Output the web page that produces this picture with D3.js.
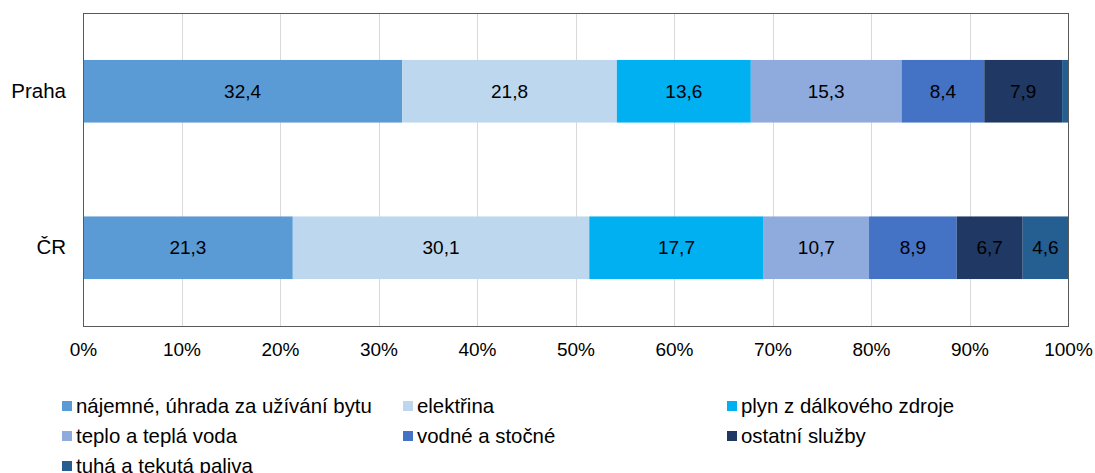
<!DOCTYPE html>
<html>
<head>
<meta charset="utf-8">
<script src="https://cdn.jsdelivr.net/npm/d3@7"></script>
<style>
  body { margin: 0; background: #fff; }
  svg text { font-family: "Liberation Sans", Arial, sans-serif; fill: #000; }
</style>
</head>
<body>
<div id="chart"></div>
<script>
var WIDTH = 1095, HEIGHT = 473;
var MARGIN = { top: 13, right: 27, bottom: 147, left: 83 };

var categories = ['Praha', 'ČR'];
var series = [
  'nájemné, úhrada za užívání bytu',
  'elektřina',
  'plyn z dálkového zdroje',
  'teplo a teplá voda',
  'vodné a stočné',
  'ostatní služby',
  'tuhá a tekutá paliva'
];
var colors = ['#5b9bd5', '#bdd7ee', '#00b0f0', '#8faadc', '#4472c4', '#203864', '#255e91'];
var praha = [32.4, 21.8, 13.6, 15.3, 8.4, 7.9, 0.6];
var cr = [21.3, 30.1, 17.7, 10.7, 8.9, 6.7, 4.6];
var values = [praha, cr];
var ticks = [0, 10, 20, 30, 40, 50, 60, 70, 80, 90, 100];

var innerW = WIDTH - MARGIN.left - MARGIN.right;
var innerH = HEIGHT - MARGIN.top - MARGIN.bottom;

var svg = d3.select('#chart').append('svg')
  .attr('width', WIDTH)
  .attr('height', HEIGHT);

var g = svg.append('g')
  .attr('transform', 'translate(' + MARGIN.left + ',' + MARGIN.top + ')');

var x = d3.scaleLinear().domain([0, 100]).range([0, innerW]);
var y = d3.scaleBand().domain(categories).range([0, innerH]).paddingInner(0.6).paddingOuter(0.3);

// gridlines
g.selectAll('line.grid')
  .data(ticks)
  .enter()
    .append('line')
    .attr('class', 'grid')
    .attr('x1', function (d) { return Math.round(x(d)) + 0.5; })
    .attr('x2', function (d) { return Math.round(x(d)) + 0.5; })
    .attr('y1', 0)
    .attr('y2', innerH)
    .attr('stroke', '#d9d9d9')
    .attr('stroke-width', 1);

// stacked segments
var rows = categories.map(function (c, i) {
  var acc = 0;
  return values[i].map(function (v, j) {
    var seg = { cat: c, x0: acc, x1: acc + v, v: v, j: j };
    acc += v;
    return seg;
  });
});

var rowG = g.selectAll('g.row')
  .data(rows)
  .enter()
    .append('g')
    .attr('class', 'row');

rowG.selectAll('rect')
  .data(function (d) { return d; })
  .enter()
    .append('rect')
    .attr('x', function (d) { return x(d.x0); })
    .attr('width', function (d) { return x(d.x1) - x(d.x0); })
    .attr('y', function (d) { return y(d.cat); })
    .attr('height', y.bandwidth())
    .attr('fill', function (d) { return colors[d.j]; });

rowG.selectAll('text')
  .data(function (d) { return d.filter(function (s) { return s.v >= 2; }); })
  .enter()
    .append('text')
    .attr('x', function (d) { return x((d.x0 + d.x1) / 2); })
    .attr('y', function (d) { return y(d.cat) + y.bandwidth() / 2; })
    .attr('dy', '0.35em')
    .attr('text-anchor', 'middle')
    .style('font-size', '19px')
    .text(function (d) { return d3.format('.1f')(d.v).replace('.', ','); });

// plot border
g.append('rect')
  .attr('x', 0.5)
  .attr('y', 0.5)
  .attr('width', innerW)
  .attr('height', innerH)
  .attr('fill', 'none')
  .attr('stroke', '#595959')
  .attr('stroke-width', 1);

// x axis labels
var xAxis = d3.axisBottom(x)
  .tickValues(ticks)
  .tickSize(0)
  .tickPadding(17)
  .tickFormat(function (d) { return d + '%'; });

g.append('g')
  .attr('transform', 'translate(0,' + innerH + ')')
  .call(xAxis)
  .call(function (sel) {
    sel.select('.domain').remove();
    sel.selectAll('text').style('font-size', '19px').attr('fill', '#000');
  });

// y axis labels
var yAxis = d3.axisLeft(y).tickSize(0).tickPadding(17);
g.append('g')
  .call(yAxis)
  .call(function (sel) {
    sel.select('.domain').remove();
    sel.selectAll('text').style('font-size', '20.5px').attr('fill', '#000');
  });

// legend
var legendCols = [62, 403, 727];
var legendRows = [406, 436, 466];
var legend = svg.selectAll('g.legend')
  .data(series)
  .enter()
    .append('g')
    .attr('class', 'legend')
    .attr('transform', function (d, i) {
      return 'translate(' + legendCols[i % 3] + ',' + legendRows[Math.floor(i / 3)] + ')';
    });

legend.append('rect')
  .attr('x', 0)
  .attr('y', -5)
  .attr('width', 10)
  .attr('height', 10)
  .attr('fill', function (d, i) { return colors[i]; });

legend.append('text')
  .attr('x', 14)
  .attr('dy', '0.35em')
  .style('font-size', '20.4px')
  .text(function (d) { return d; });
</script>
</body>
</html>
